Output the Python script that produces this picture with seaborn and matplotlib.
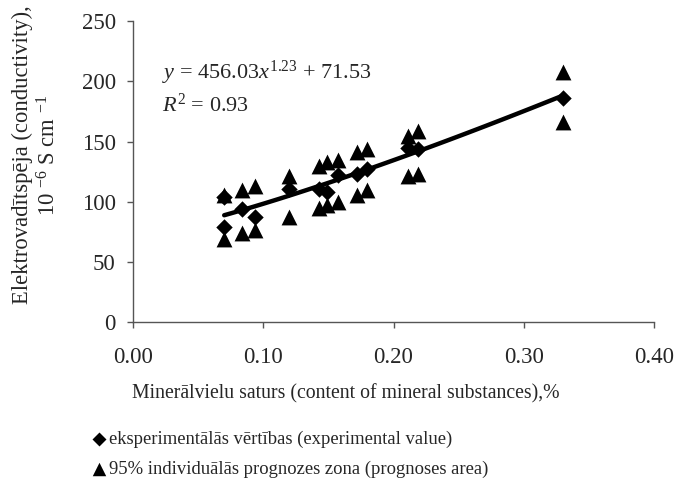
import numpy as np
import pandas as pd
import seaborn as sns
from matplotlib import pyplot as plt

# mineral content (%) for each sample
x_vals = [0.07, 0.084, 0.094, 0.12, 0.143, 0.149, 0.157, 0.172, 0.180, 0.211, 0.219, 0.33]
# experimental conductivity values
y_exp = [104, 94, 87, 111, 111, 108, 122, 123, 127, 145, 144, 186]
# 95% individual prediction zone, upper and lower
y_upper = [106, 110, 113, 121, 130, 133, 135, 141, 144, 155, 159, 208]
y_lower = [69, 74, 77, 87, 95, 97, 100, 106, 110, 121, 123, 166]
# extra low experimental point at 0.07
x_extra = [0.07]
y_extra = [79]

# fitted trend: y = a * x^b + c
fit_a, fit_b, fit_c = 456.03, 1.23, 71.53

sns.set_style("ticks")
plt.rcParams['font.family'] = ['Liberation Serif', 'DejaVu Serif']
plt.rcParams['mathtext.fontset'] = 'custom'
plt.rcParams['mathtext.rm'] = 'Liberation Serif'
plt.rcParams['mathtext.it'] = 'Liberation Serif:italic'

df_exp = pd.DataFrame({'x': x_vals + x_extra, 'y': y_exp + y_extra})
df_zone = pd.DataFrame({'x': x_vals + x_vals, 'y': y_upper + y_lower})

fig = plt.figure(figsize=(6.77, 4.91), dpi=100)
ax = fig.add_axes([0.1965, 0.3436, 0.7695, 0.6135])

xs = np.linspace(min(x_vals), max(x_vals), 100)
fit = pd.DataFrame({'x': xs, 'y': fit_a * xs ** fit_b + fit_c})
sns.lineplot(data=fit, x='x', y='y', ax=ax, color='black', linewidth=3.2, zorder=3)

sns.scatterplot(data=df_zone, x='x', y='y', ax=ax, marker='^', s=130,
                color='black', edgecolor='black', linewidth=0, zorder=4,
                label='95% individuālās prognozes zona (prognoses area)')
sns.scatterplot(data=df_exp, x='x', y='y', ax=ax, marker='D', s=70,
                color='black', edgecolor='black', linewidth=0, zorder=5,
                label='eksperimentālās vērtības (experimental value)')

ax.set_xlim(0, 0.4)
ax.set_ylim(0, 250)
ax.set_xticks([0.0, 0.1, 0.2, 0.3, 0.4])
ax.set_xticklabels(['0.00', '0.10', '0.20', '0.30', '0.40'])
ax.set_yticks([0, 50, 100, 150, 200, 250])
ax.tick_params(labelsize=16.5, length=4.5, width=1, color='#555555')
ax.tick_params(axis='x', pad=13)
ax.tick_params(axis='y', pad=8)
for s in ['left', 'bottom']:
    ax.spines[s].set_color('#555555')
    ax.spines[s].set_linewidth(1)
sns.despine(ax=ax)

ax.set_xlabel('Minerālvielu saturs (content of mineral substances),%', fontsize=14.2)
ax.xaxis.set_label_coords(0.409, -0.205)
ax.set_ylabel('Elektrovadītspēja (conductivity),\n10 $^{-6}$ S cm $^{-1}$',
              fontsize=16.3, linespacing=1.2)
ax.yaxis.set_label_coords(-0.14, 0.555)

ax.text(0.022, 207, '$y$ = 456.03$x^{1.23}$ + 71.53', fontsize=16, va='center')
ax.text(0.022, 180, '$R^2$ = 0.93', fontsize=16, va='center')

handles, labels = ax.get_legend_handles_labels()
ax.legend_.remove()
fig.legend(handles[::-1], labels[::-1], loc='upper left', bbox_to_anchor=(0.122, 0.138),
           frameon=False, fontsize=13.4, handletextpad=0.0, handlelength=1.0,
           labelspacing=0.7, borderaxespad=0, markerscale=0.85)

plt.savefig('out.png', dpi=100)
